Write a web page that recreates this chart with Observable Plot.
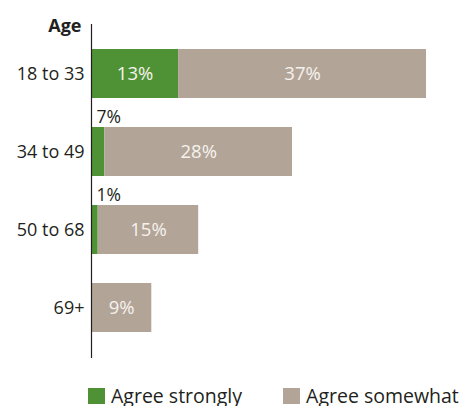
<!DOCTYPE html>
<html>
<head>
<meta charset="utf-8">
<script src="https://cdn.jsdelivr.net/npm/d3@7"></script>
<script src="https://cdn.jsdelivr.net/npm/@observablehq/plot@0.6"></script>
<style>
  body { margin: 0; background: #fff; font-family: "Open Sans", sans-serif; color: #231f20; }
  #chart svg { display: block; }
  .legend { display: flex; align-items: center; margin-top: 16px; margin-left: 88px; height: 20px; line-height: 20px; font-size: 19.5px; white-space: nowrap; }
  .legend .sw { width: 17px; height: 16px; margin-right: 6px; flex: none; }
  .legend .item { display: flex; align-items: center; margin-right: 41px; flex: none; }
</style>
</head>
<body>
<div id="chart"></div>
<script>
const ages = ["18 to 33", "34 to 49", "50 to 68", "69+"];
const types = ["Agree strongly", "Agree somewhat"];
const colors = ["#4f9236", "#b2a598"];
const strongly = [13, 2, 1, 0];          // drawn bar widths as measured
const stronglyLabels = ["13%", "7%", "1%", ""];
const somewhat = [37, 28, 15, 9];
const somewhatLabels = ["37%", "28%", "15%", "9%"];
const insideStrong = [true, false, false, false];

const rows = [];
ages.forEach((a, i) => {
  rows.push({age: a, type: types[0], value: strongly[i], label: stronglyLabels[i], inside: insideStrong[i]});
  rows.push({age: a, type: types[1], value: somewhat[i], label: somewhatLabels[i], inside: true});
});
const outside = rows.filter(d => !d.inside && d.label);

const chart = Plot.plot({
  width: 472,
  height: 370,
  marginLeft: 91,
  marginRight: 46,
  marginTop: 24,
  marginBottom: 12,
  style: {fontFamily: "Open Sans, sans-serif", fontSize: "18px", color: "#231f20", background: "#fff"},
  x: {domain: [0, 50], axis: null},
  y: {domain: ages, paddingInner: 0.367, paddingOuter: 0.2975, label: null, axis: null},
  color: {domain: types, range: colors},
  marks: [
    Plot.barX(rows, Plot.stackX({x: "value", y: "age", fill: "type"})),
    Plot.axisY({tickSize: 0, tickPadding: 7, label: null, fontSize: 18, fill: "#231f20"}),
    Plot.text(rows, Plot.stackX({x: "value", y: "age", text: d => d.inside ? d.label : null, fill: "#f6f2ee", fontSize: 18.5})),
    Plot.text(outside, {x: 0, y: "age", text: "label", textAnchor: "start", dx: 5, dy: -35, fill: "#231f20", fontSize: 17.5}),
    Plot.ruleX([0], {stroke: "#231f20", strokeWidth: 1.2}),
    Plot.text(["Age"], {frameAnchor: "top-left", text: d => d, textAnchor: "end", dx: -10, dy: -5, fontWeight: "bold", fontSize: 18, fill: "#231f20"})
  ]
});
document.getElementById("chart").append(chart);

const legend = document.createElement("div");
legend.className = "legend";
types.forEach((t, i) => {
  const item = document.createElement("div");
  item.className = "item";
  const sw = document.createElement("div");
  sw.className = "sw";
  sw.style.background = colors[i];
  const lab = document.createElement("span");
  lab.textContent = t;
  item.append(sw, lab);
  legend.append(item);
});
document.body.append(legend);
</script>
</body>
</html>
